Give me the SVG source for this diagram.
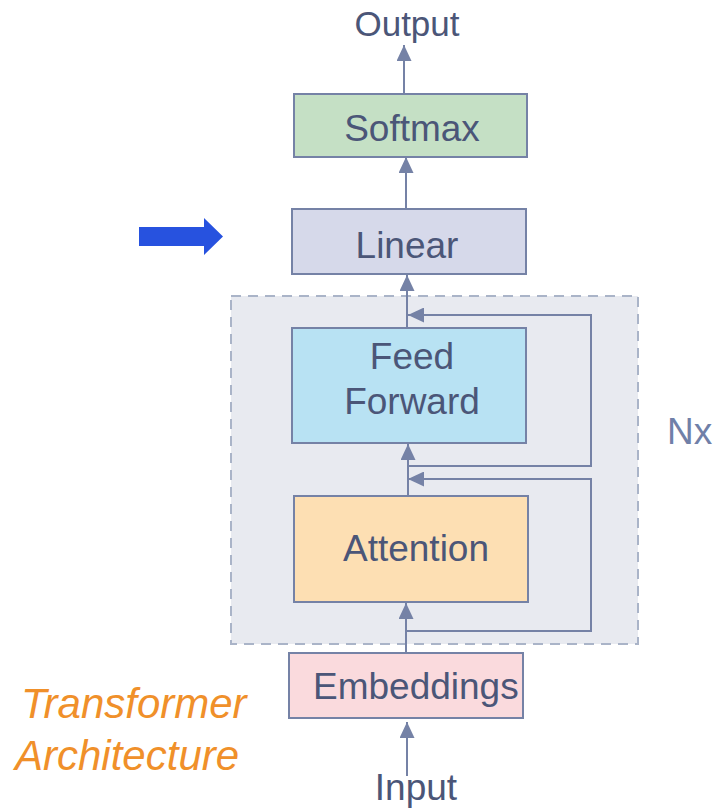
<svg xmlns="http://www.w3.org/2000/svg" width="713" height="809" viewBox="0 0 713 809">
  <style>
    .box { stroke: #7582A6; stroke-width: 2; }
    .lbl { font-family: "Liberation Sans", Arial, sans-serif; font-size: 37px; fill: #4B5678; }
    .mid { text-anchor: middle; }
    .conn { fill: none; stroke: #7582A6; stroke-width: 2; }
    .title { font-family: "Liberation Sans", Arial, sans-serif; font-size: 42px; font-style: italic; fill: #F0902A; }
  </style>
  <defs>
    <marker id="ah" markerUnits="userSpaceOnUse" markerWidth="17" markerHeight="15" refX="16" refY="7.5" orient="auto">
      <path d="M0,0 L16,7.5 L0,15 z" fill="#7582A6"/>
    </marker>
  </defs>
  <rect width="713" height="809" fill="#FFFFFF"/>

  <g id="container">
    <rect x="231" y="296" width="407" height="348" fill="#E8EAF0" stroke="#AAB4C8" stroke-width="2" stroke-dasharray="10,7"/>
  </g>

  <g id="connectors">
    <line class="conn" x1="404" y1="94" x2="404" y2="45" marker-end="url(#ah)"/>
    <line class="conn" x1="406" y1="209" x2="406" y2="157" marker-end="url(#ah)"/>
    <line class="conn" x1="407" y1="328" x2="407" y2="275" marker-end="url(#ah)"/>
    <path class="conn" d="M408,466 H591 V315 H408" marker-end="url(#ah)"/>
    <line class="conn" x1="408" y1="496" x2="408" y2="444" marker-end="url(#ah)"/>
    <path class="conn" d="M406,631 H591 V479 H408" marker-end="url(#ah)"/>
    <line class="conn" x1="406" y1="653" x2="406" y2="603" marker-end="url(#ah)"/>
    <line class="conn" x1="407" y1="776" x2="407" y2="722" marker-end="url(#ah)"/>
  </g>

  <g id="softmax">
    <rect class="box" x="294" y="94" width="233" height="63" fill="#C5E0C5"/>
    <text class="lbl mid" x="412" y="141">Softmax</text>
  </g>
  <g id="linear">
    <rect class="box" x="292" y="209" width="234" height="65" fill="#D6D9EA"/>
    <text class="lbl mid" x="407" y="258">Linear</text>
  </g>
  <g id="feedforward">
    <rect class="box" x="292" y="328" width="234" height="115" fill="#B8E2F3"/>
    <text class="lbl mid" x="412" y="369">Feed</text>
    <text class="lbl mid" x="412" y="414">Forward</text>
  </g>
  <g id="attention">
    <rect class="box" x="294" y="496" width="234" height="106" fill="#FDDFB3"/>
    <text class="lbl mid" x="416" y="561">Attention</text>
  </g>
  <g id="embeddings">
    <rect class="box" x="289" y="653" width="234" height="65" fill="#FADADD"/>
    <text class="lbl" x="313" y="699">Embeddings</text>
  </g>
  <g id="output">
    <text class="lbl mid" x="407" y="36" style="font-size:35px">Output</text>
  </g>
  <g id="input">
    <text class="lbl mid" x="416" y="800">Input</text>
  </g>
  <g id="nx">
    <text class="lbl" x="667" y="444" style="fill:#7080A8">Nx</text>
  </g>
  <g id="pointer">
    <polygon points="139,227 204,227 204,218 223,236.5 204,255 204,246 139,246" fill="#2752DF"/>
  </g>
  <g id="title">
    <text class="title" x="21" y="718">Transformer</text>
    <text class="title" x="15" y="770">Architecture</text>
  </g>
</svg>
